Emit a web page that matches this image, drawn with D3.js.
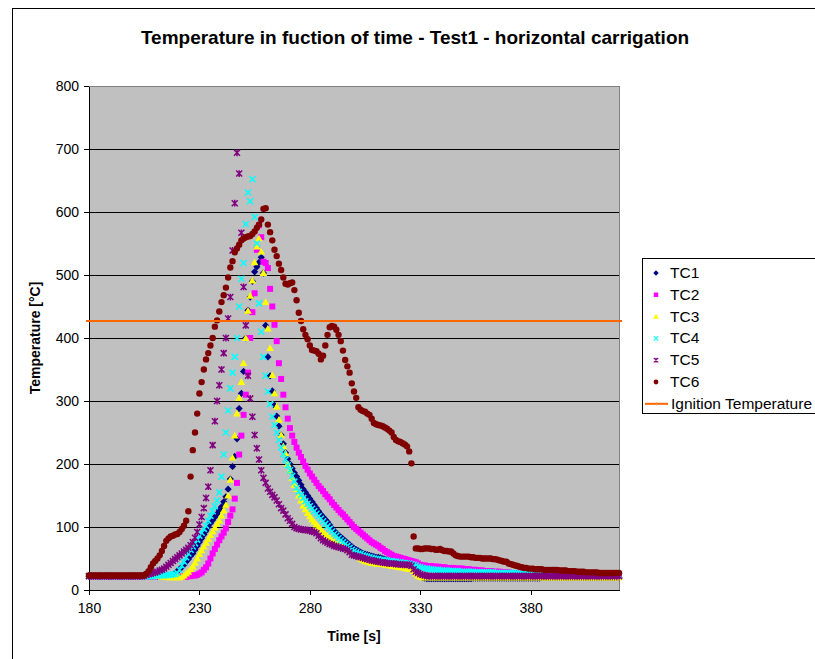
<!DOCTYPE html>
<html><head><meta charset="utf-8">
<script src="https://cdn.jsdelivr.net/npm/d3@7"></script>
<style>
body{margin:0;background:#fff;}
svg text{font-family:"Liberation Sans",Arial,sans-serif;}
</style>
</head><body>
<svg id="chart" width="815" height="659"></svg>
<script>
// ---------- DATA ----------
const startTime = 180;   // s
const timeStep = 1;      // s
const ignitionTemperature = 427;
const ignitionTimes = [180, 420];
const xTicks = [180, 230, 280, 330, 380];
const yTicks = [0, 100, 200, 300, 400, 500, 600, 700, 800];
const seriesNames = ["TC1", "TC2", "TC3", "TC4", "TC5", "TC6"];

const TC1 = [
22,22,22,22,22,22,22,22,22,22,
22,22,22,22,22,22,22,22,22,22,
22,22,22,22,22,22,22,22,22,22,
22,22,22,22,23,23,23,23,24,27,
30,33,36,40,45,49,54,58,64,70,
76,82,88,94,100,106,111,116,121,127,
132,140,148,160,176,196,212,240,288,312,
347,400,444,465,490,505,513,520,528,503,
420,370,340,316,293,276,260,246,232,218,
208,200,193,186,180,174,167,160,155,150,
145,140,135,130,125,120,116,112,108,103,
98,94,90,87,84,81,78,75,72,69,
66,64,62,60,58,57,56,55,54,53,
52,52,51,50,49,48,47,46,45,45,
44,43,42,41,40,39,38,37,36,30,
22,20,19,18,18,18,18,18,18,18,
18,18,18,18,18,18,18,18,18,18,
18,18,18,18,19,19,19,19,19,19,
19,19,19,19,19,19,19,19,19,19,
19,19,19,19,19,19,19,19,19,19,
19,19,19,19,19,20,20,20,20,20,
20,20,20,20,20,20,20,20,20,20,
20,20,20,20,20,20,20,20,20,20,
20,20,20,20,20,20,20,20,20,20,
20];

const TC2 = [
22,22,22,22,22,22,22,22,22,22,
22,22,22,22,22,22,22,22,22,22,
22,22,22,22,22,22,22,22,22,22,
22,22,22,21,21,21,21,21,21,21,
21,21,21,21,21,22,22,23,23,24,
26,28,32,36,42,50,58,65,72,79,
85,91,98,108,118,128,145,170,215,245,
278,310,345,400,441,471,540,579,560,521,
519,511,478,450,421,395,360,335,310,290,
272,257,245,235,226,218,211,204,197,191,
185,180,175,170,165,161,157,152,148,144,
139,135,131,127,123,120,116,112,108,104,
100,97,94,91,88,85,82,79,76,74,
72,70,67,65,62,60,58,56,54,53,
52,51,50,49,48,47,46,45,44,42,
40,39,39,38,38,38,37,37,37,36,
36,36,35,35,35,35,34,34,34,34,
33,33,33,32,32,32,31,31,31,30,
30,30,30,29,29,29,29,28,28,28,
28,27,27,27,27,26,26,26,26,25,
25,25,25,25,24,24,24,24,24,24,
23,23,23,23,23,23,23,23,23,23,
23,23,23,23,23,22,22,22,22,22,
22,22,22,22,22,22,22,22,22,22,
22];

const TC3 = [
22,22,22,22,22,22,22,22,22,22,
22,22,22,22,22,22,22,22,22,22,
22,22,22,22,22,22,22,22,22,22,
22,22,22,21,21,21,20,20,20,20,
20,20,21,23,26,29,33,37,43,50,
57,63,69,75,81,87,93,99,105,110,
118,126,135,150,175,210,245,280,305,330,
360,400,443,467,491,520,545,558,537,503,
457,415,384,341,312,291,270,246,228,217,
200,190,178,167,160,150,142,134,128,122,
117,112,108,104,100,96,92,89,86,83,
80,77,75,73,71,69,67,65,63,61,
59,56,53,50,48,46,45,44,43,43,
42,42,41,41,40,40,39,38,38,37,
37,36,36,35,34,33,33,30,26,23,
21,20,20,20,20,20,20,20,20,20,
20,20,20,20,20,20,20,20,20,20,
20,20,20,20,20,20,20,20,20,20,
20,20,20,20,20,20,20,20,20,20,
20,20,20,20,20,20,20,20,20,20,
20,20,20,20,20,20,20,20,20,20,
20,20,20,20,20,20,20,20,20,20,
20,20,20,20,20,20,20,20,20,20,
20,20,20,20,20,20,20,20,20,20,
20];

const TC4 = [
22,22,22,22,22,22,22,22,22,22,
22,22,22,22,22,22,22,22,22,22,
22,22,22,22,22,22,22,22,22,22,
23,23,23,23,23,24,24,24,25,25,
27,32,39,45,52,58,64,69,74,80,
86,91,97,102,110,118,125,133,142,155,
180,215,250,285,320,345,370,400,450,494,
519,581,631,617,652,592,550,455,410,370,
340,315,295,275,262,250,238,226,216,207,
198,190,181,172,162,156,151,146,141,137,
133,129,125,121,117,113,109,105,101,97,
93,89,86,82,79,76,73,70,67,64,
62,60,58,57,55,54,53,52,51,50,
49,49,48,48,47,47,46,46,45,45,
44,44,43,43,42,42,41,40,39,37,
36,35,34,34,33,33,32,32,32,31,
31,31,31,30,30,30,30,30,29,29,
29,29,29,29,29,28,28,28,28,28,
28,28,28,28,27,27,27,27,27,27,
27,27,27,27,26,26,26,26,26,26,
26,26,26,25,25,25,25,25,25,25,
25,25,24,24,24,24,24,24,24,24,
24,24,24,23,23,23,23,23,23,23,
23,23,23,23,23,23,23,23,23,23,
23];

const TC5 = [
22,22,22,22,22,22,22,22,22,22,
22,22,22,22,22,22,22,22,22,22,
22,22,22,22,22,23,24,25,26,27,
28,29,31,32,34,37,40,43,46,49,
52,55,58,61,64,67,71,76,83,92,
104,116,130,146,164,190,230,268,300,325,
350,376,400,431,465,539,614,694,661,567,
481,420,340,304,275,246,225,207,190,178,
170,161,156,151,147,142,136,130,126,120,
114,110,105,100,98,97,96,96,95,95,
94,93,92,90,86,82,79,77,75,73,
72,70,69,68,67,66,65,63,60,56,
55,54,53,52,51,50,49,48,47,46,
46,45,44,44,43,43,42,42,42,41,
41,41,40,40,40,40,38,33,29,27,
25,24,23,22,22,22,22,22,22,22,
22,22,22,22,22,22,22,22,22,22,
22,22,22,22,22,22,22,22,22,22,
22,22,22,22,22,22,22,22,22,22,
22,22,22,22,22,22,22,22,22,22,
22,22,22,22,22,22,22,22,22,22,
22,22,22,22,22,22,22,22,22,22,
22,22,22,22,22,22,22,22,22,22,
22,22,22,22,22,22,22,22,22,22,
22];

const TC6 = [
23,23,23,23,23,23,23,23,23,23,
23,23,23,23,23,23,23,23,23,23,
23,23,23,23,23,23,26,30,36,42,
46,50,55,62,70,78,82,85,86,88,
89,92,97,102,110,125,180,222,250,280,
312,330,350,366,376,388,400,418,428,442,
457,468,480,496,512,522,536,542,548,555,
558,560,561,562,565,569,575,580,588,605,
606,580,568,555,540,530,518,508,496,486,
485,487,488,476,460,440,427,414,405,398,
388,381,380,379,375,366,372,388,405,417,
419,418,413,405,395,380,365,355,345,328,
315,305,290,286,284,283,280,278,272,265,
263,262,261,260,258,256,253,250,243,238,
236,235,233,231,228,220,201,85,66,66,
65,65,66,66,66,65,65,64,64,65,
63,62,62,61,61,58,55,54,53,53,
53,53,53,52,52,51,51,51,50,50,
50,50,50,49,49,48,47,46,45,45,
42,41,40,39,38,37,36,35,35,34,
34,34,33,33,33,33,32,32,32,32,
32,32,32,31,31,31,31,30,30,30,
30,29,29,29,29,28,28,28,28,28,
28,27,27,27,27,27,27,27,27,27,
27];

const seriesValues = [TC1, TC2, TC3, TC4, TC5, TC6];
const seriesColors = ["#000080", "#FF00FF", "#FFFF00", "#00FFFF", "#800080", "#800000"];
const ignitionColor = "#FF6600";

// ---------- MARKERS ----------
const markerPaths = {
  diamond: "M0,-3.6L3.6,0L0,3.6L-3.6,0Z",
  square: "M-3,-3h6v6h-6Z",
  triangle: "M0,-3.8L3.8,2.9L-3.8,2.9Z",
  cross: "M-3,-3L3,3M-3,3L3,-3",
  star: "M-3,-3L3,3M-3,3L3,-3M0,-3.4L0,3.4",
  circle: "M3.2,0A3.2,3.2 0 1,1 -3.2,0A3.2,3.2 0 1,1 3.2,0Z"
};
const seriesMarkers = ["diamond", "square", "triangle", "cross", "star", "circle"];
const strokeMarkers = {cross: true, star: true};

// ---------- CHART ----------
const svg = d3.select("#chart");
const plot = {left: 89, top: 86, right: 619, bottom: 590};

const x = d3.scaleLinear().domain([180, 420]).range([plot.left, plot.right]);
const y = d3.scaleLinear().domain([0, 800]).range([plot.bottom, plot.top]);

// outer chart border
svg.append("rect").attr("x", 12.5).attr("y", 8.5).attr("width", 830).attr("height", 680)
  .attr("fill", "#fff").attr("stroke", "#000").attr("stroke-width", 1);

// title
svg.append("text").attr("x", 415).attr("y", 44).attr("text-anchor", "middle")
  .attr("font-size", "19px").attr("font-weight", "bold")
  .text("Temperature in fuction of time - Test1 - horizontal carrigation");

// plot area
svg.append("rect").attr("x", plot.left).attr("y", plot.top)
  .attr("width", plot.right - plot.left).attr("height", plot.bottom - plot.top)
  .attr("fill", "#C0C0C0").attr("stroke", "#808080").attr("shape-rendering", "crispEdges");

// gridlines
svg.append("g").selectAll("line").data(yTicks.filter(v => v > 0 && v < 800)).join("line")
  .attr("x1", plot.left).attr("x2", plot.right)
  .attr("y1", d => y(d)).attr("y2", d => y(d))
  .attr("stroke", "#000").attr("stroke-width", 1).attr("shape-rendering", "crispEdges");

// axes
const yAxis = svg.append("g").attr("transform", `translate(${plot.left},0)`)
  .call(d3.axisLeft(y).tickValues(yTicks).tickSize(5).tickSizeOuter(0).tickPadding(5));
const xAxis = svg.append("g").attr("transform", `translate(0,${plot.bottom})`)
  .call(d3.axisBottom(x).tickValues(xTicks).tickSize(5).tickSizeOuter(0).tickPadding(8));
[yAxis, xAxis].forEach(g => {
  g.attr("shape-rendering", "crispEdges");
  g.selectAll("text").attr("font-size", "14px").attr("font-family", '"Liberation Sans",Arial,sans-serif').attr("fill", "#000");
  g.selectAll("line").attr("stroke", "#000");
  g.select(".domain").attr("stroke", "#000");
});

// axis titles
svg.append("text").attr("x", (plot.left + plot.right) / 2).attr("y", 641)
  .attr("text-anchor", "middle").attr("font-size", "14px").attr("font-weight", "bold")
  .text("Time [s]");
svg.append("text").attr("transform", `translate(40,${(plot.top + plot.bottom) / 2}) rotate(-90)`)
  .attr("text-anchor", "middle").attr("font-size", "14px").attr("font-weight", "bold")
  .text("Temperature [°C]");

// series markers
seriesValues.forEach((vals, i) => {
  const mk = seriesMarkers[i];
  const isStroke = !!strokeMarkers[mk];
  svg.append("g").selectAll("path").data(vals).join("path")
    .attr("d", markerPaths[mk])
    .attr("transform", (d, k) => `translate(${x(startTime + k * timeStep)},${y(d)})`)
    .attr("fill", isStroke ? "none" : seriesColors[i])
    .attr("stroke", isStroke ? seriesColors[i] : "none")
    .attr("stroke-width", isStroke ? 1.5 : 0);
});

// ignition temperature line
const ignData = ignitionTimes.map(t => [t, ignitionTemperature]);
svg.append("path").datum(ignData)
  .attr("d", d3.line().x(d => x(d[0])).y(d => y(d[1])))
  .attr("stroke", ignitionColor).attr("stroke-width", 2).attr("fill", "none");
svg.append("g").selectAll("line").data(ignData).join("line")
  .attr("x1", d => x(d[0]) - 3).attr("x2", d => x(d[0]) + 3)
  .attr("y1", d => y(d[1])).attr("y2", d => y(d[1]))
  .attr("stroke", ignitionColor).attr("stroke-width", 2);

// legend
const lg = svg.append("g");
lg.append("rect").attr("x", 642.5).attr("y", 258.5).attr("width", 200).attr("height", 155)
  .attr("fill", "#fff").attr("stroke", "#000");
const legendNames = seriesNames.concat(["Ignition Temperature"]);
legendNames.forEach((name, i) => {
  const ly = 273 + i * 21.8;
  if (i < 6) {
    const mk = seriesMarkers[i];
    const isStroke = !!strokeMarkers[mk];
    lg.append("path").attr("d", markerPaths[mk])
      .attr("transform", `translate(656,${ly}) scale(0.75)`)
      .attr("fill", isStroke ? "none" : seriesColors[i])
      .attr("stroke", isStroke ? seriesColors[i] : "none")
      .attr("stroke-width", isStroke ? 1.4 : 0);
  } else {
    lg.append("line").attr("x1", 645).attr("x2", 668).attr("y1", ly).attr("y2", ly)
      .attr("stroke", ignitionColor).attr("stroke-width", 2);
    lg.append("line").attr("x1", 656.5).attr("x2", 656.5).attr("y1", ly - 1.5).attr("y2", ly + 1.5)
      .attr("stroke", "#FF9955").attr("stroke-width", 1);
  }
  lg.append("text").attr("x", i < 6 ? 670 : 671).attr("y", ly + 5)
    .attr("font-size", "15.5px").text(name);
});
</script>
</body></html>
